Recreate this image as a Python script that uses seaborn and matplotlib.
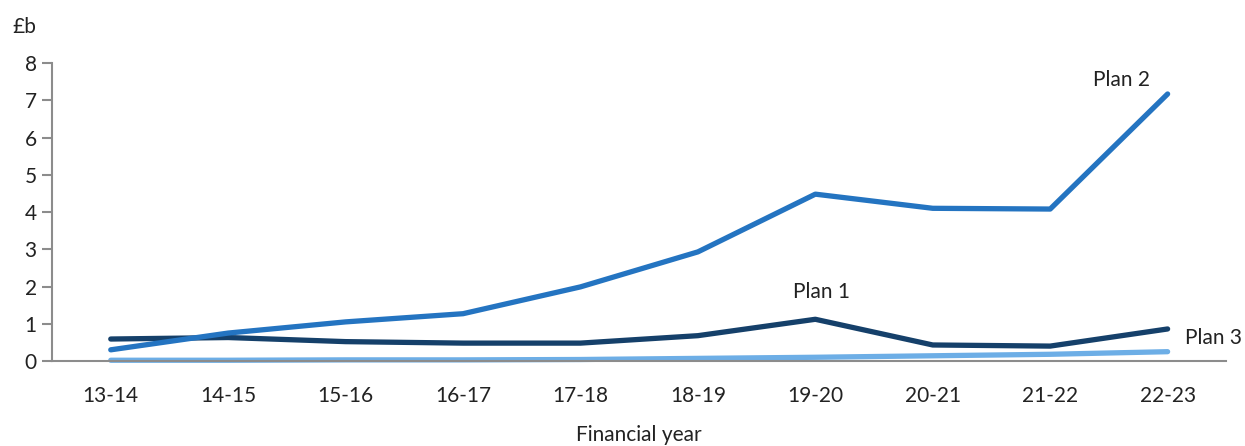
import matplotlib
matplotlib.use("Agg")
import matplotlib.pyplot as plt
import seaborn as sns
import pandas as pd

years = ["13-14", "14-15", "15-16", "16-17", "17-18", "18-19", "19-20", "20-21", "21-22", "22-23"]
plan1 = [0.59, 0.63, 0.52, 0.48, 0.48, 0.68, 1.12, 0.43, 0.40, 0.86]
plan2 = [0.30, 0.75, 1.05, 1.27, 1.99, 2.93, 4.48, 4.10, 4.08, 7.17]
plan3 = [0.02, 0.02, 0.03, 0.03, 0.04, 0.07, 0.10, 0.14, 0.18, 0.25]
series_names = ["Plan 3", "Plan 1", "Plan 2"]
colors = {"Plan 1": "#15406A", "Plan 2": "#2474C1", "Plan 3": "#6DAEE6"}

rows = []
for name, vals in zip(["Plan 3", "Plan 1", "Plan 2"], [plan3, plan1, plan2]):
    for y, v in zip(years, vals):
        rows.append({"year": y, "value": v, "plan": name})
df = pd.DataFrame(rows)

sns.set_theme(style="white")
plt.rcParams["font.family"] = ["Lato", "DejaVu Sans"]

fig = plt.figure(figsize=(12.45, 4.46), dpi=100)
ax = fig.add_axes([0.0418, 0.1906, 0.9432, 0.668])

sns.lineplot(data=df, x="year", y="value", hue="plan", hue_order=series_names,
             palette=colors, linewidth=3.8, legend=False, ax=ax, sort=False)
for line in ax.lines:
    line.set_solid_capstyle("round")
    line.set_clip_on(False)

ax.set_xlim(-0.5, 9.5)
ax.set_ylim(0, 8)
ax.set_yticks(range(0, 9))
ax.set_xlabel("Financial year", fontsize=15, color="#222222", labelpad=14)
ax.set_ylabel("")
for s in ["top", "right"]:
    ax.spines[s].set_visible(False)
for s in ["left", "bottom"]:
    ax.spines[s].set_color("#8C8C8C")
    ax.spines[s].set_linewidth(1.5)
ax.tick_params(axis="y", left=True, length=7, width=1.5, color="#8C8C8C",
               labelsize=15, labelcolor="#222222", pad=4)
ax.tick_params(axis="x", bottom=False, labelsize=15, labelcolor="#222222", pad=12)

ax.text(8.61, 7.54, "Plan 2", fontsize=15, color="#222222", ha="center", va="center")
ax.text(6.05, 1.85, "Plan 1", fontsize=15, color="#222222", ha="center", va="center")
ax.text(9.39, 0.62, "Plan 3", fontsize=15, color="#222222", ha="center", va="center", clip_on=False)
fig.text(24 / 1245, 1 - 27 / 446, "£b", fontsize=15, color="#222222", ha="center", va="center")

fig.savefig("out.png", dpi=100)
